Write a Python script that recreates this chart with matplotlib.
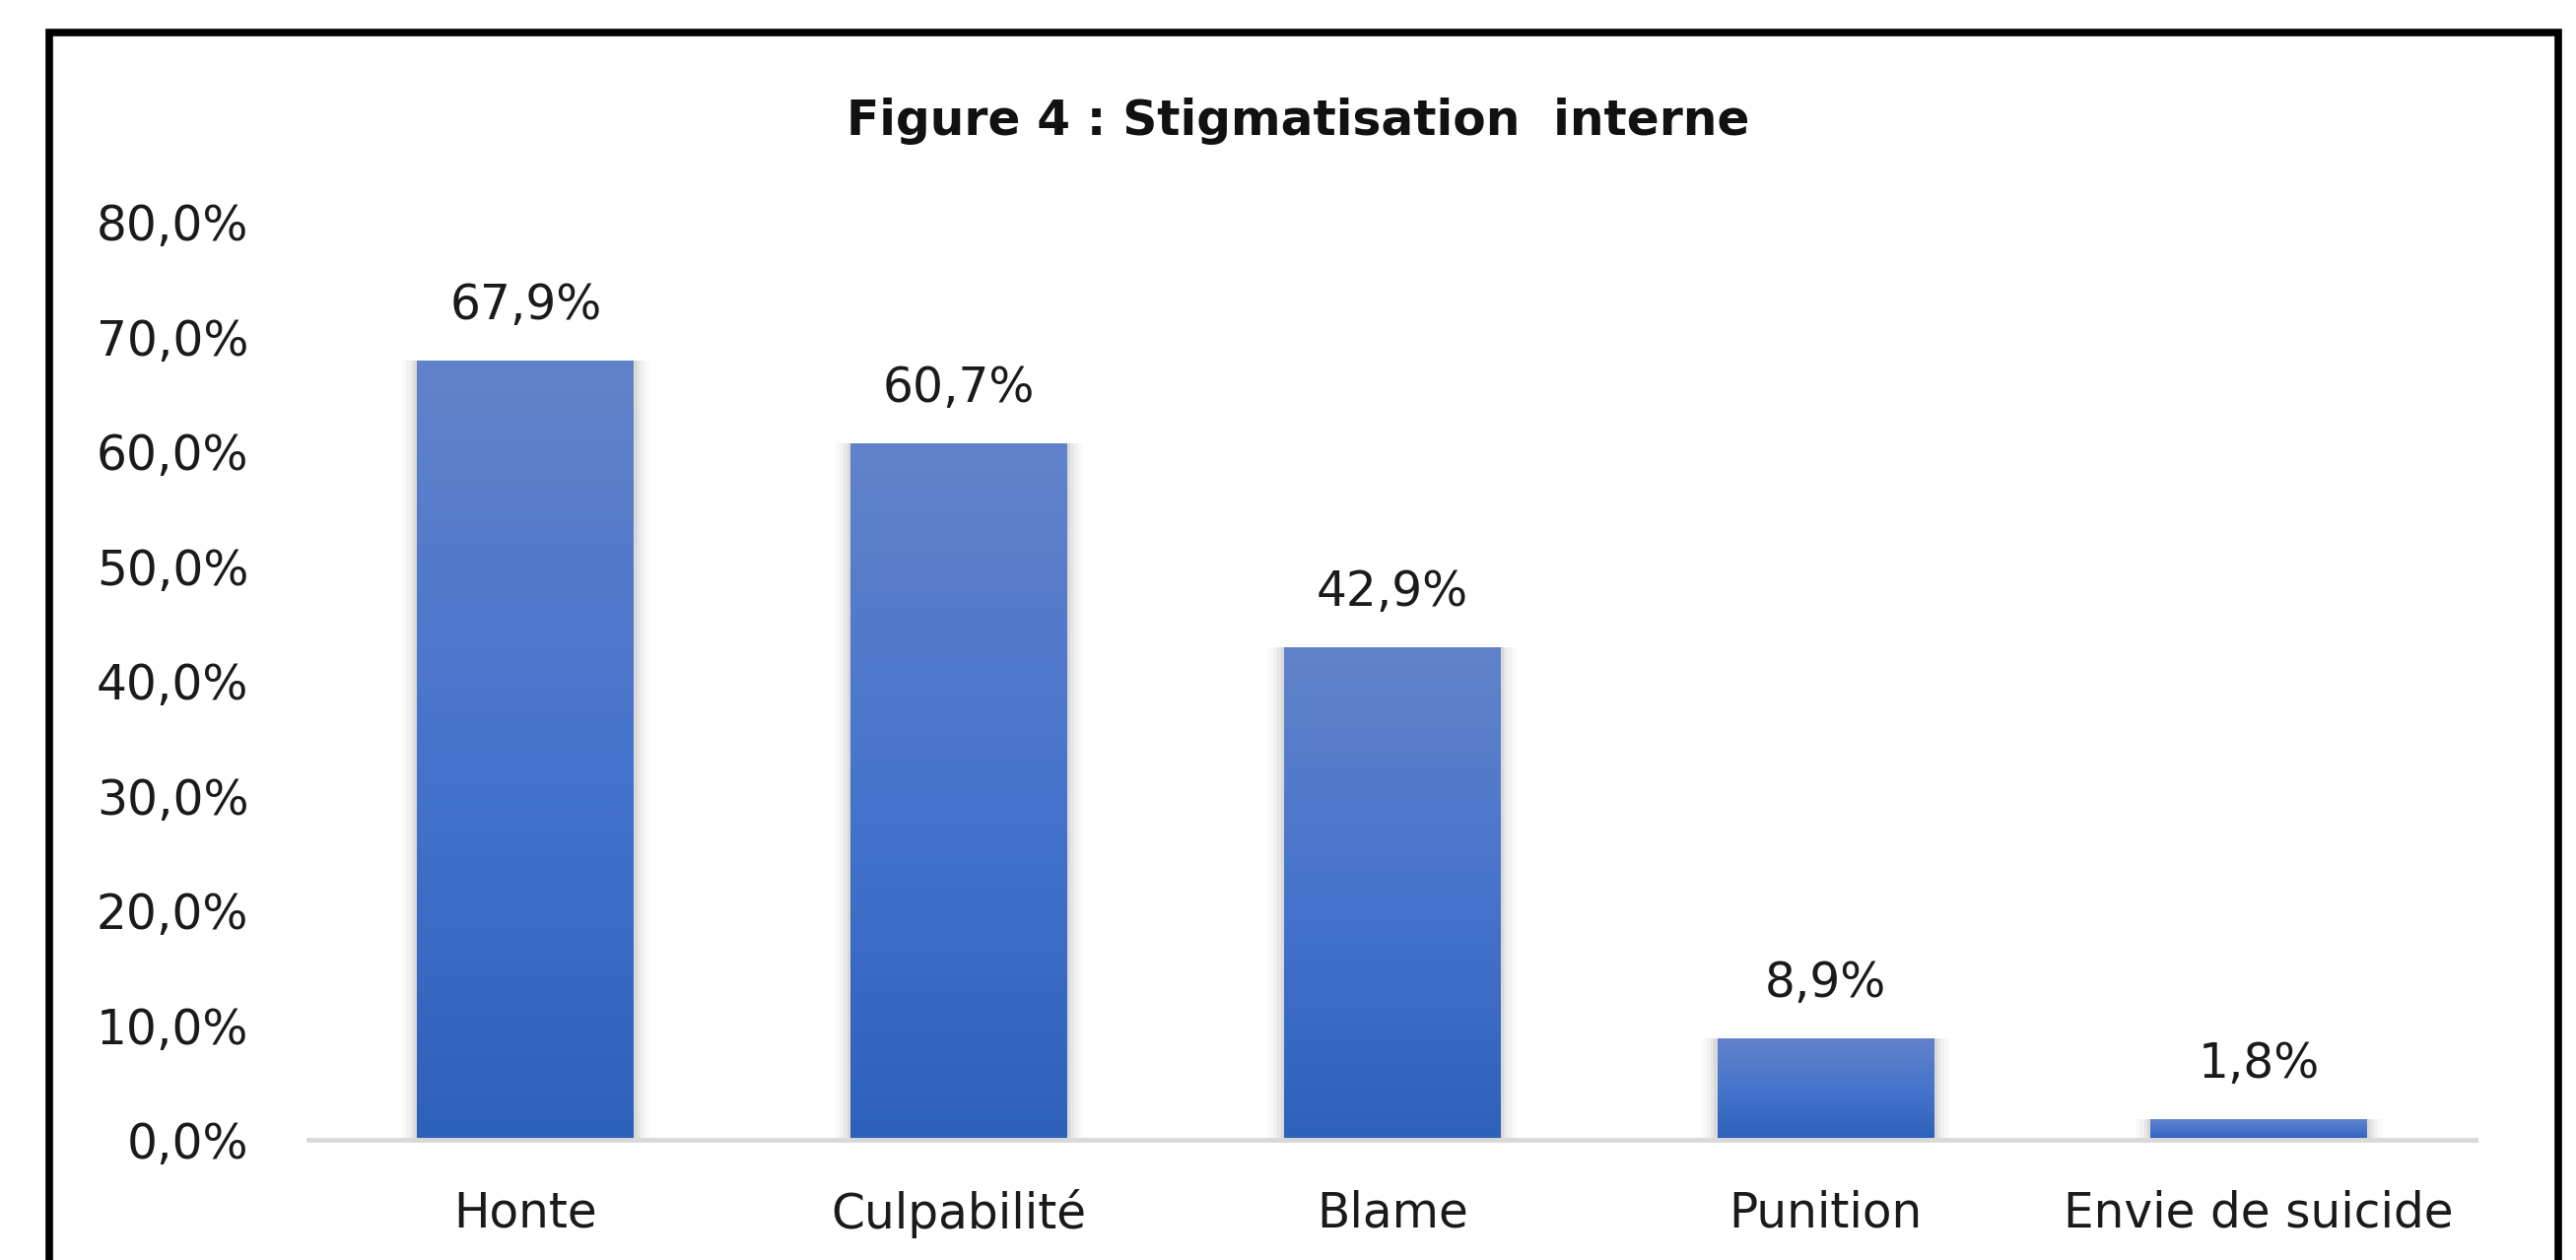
import numpy as np
import matplotlib.pyplot as plt
from matplotlib.patches import Rectangle
from matplotlib.colors import LinearSegmentedColormap

# Data
categories = ['Honte', 'Culpabilité', 'Blame', 'Punition', 'Envie de suicide']
values = [0.679, 0.607, 0.429, 0.089, 0.018]
labels = ['67,9%', '60,7%', '42,9%', '8,9%', '1,8%']
yticks = [0.0, 0.1, 0.2, 0.3, 0.4, 0.5, 0.6, 0.7, 0.8]

plt.rcParams['font.family'] = ['DejaVu Sans']

fig = plt.figure(figsize=(26.14, 12.79), dpi=100)
ax = fig.add_axes([0.1199, 0.0952, 0.8411, 0.7288])

x = np.arange(len(categories))
width = 0.5

# soft shadow behind the bars
for k, a in zip([0.07, 0.05, 0.03, 0.015], [0.04, 0.06, 0.09, 0.12]):
    ax.bar(x, values, width=width + k, color='#7f7f7f', alpha=a, linewidth=0, zorder=1)

bars = ax.bar(x, values, width=width, color='#4472C4', linewidth=0, zorder=2)

# vertical gradient inside each bar
cmap = LinearSegmentedColormap.from_list('grad', ['#2E61BA', '#4674CC', '#6283CA'])
grad = np.linspace(0, 1, 256).reshape(-1, 1)
for b in bars:
    x0, y0 = b.get_x(), b.get_y()
    w, h = b.get_width(), b.get_height()
    im = ax.imshow(grad, cmap=cmap, origin='lower', aspect='auto',
                   extent=[x0, x0 + w, y0, y0 + h], zorder=3)
    im.set_clip_path(b)

for xi, v, lab in zip(x, values, labels):
    ax.annotate(lab, (xi, v), xytext=(0, 23), textcoords='offset points',
                ha='center', va='bottom', fontsize=35, color='#1a1a1a')

ax.set_xlim(-0.5, len(categories) - 0.5)
ax.set_ylim(0, 0.8)
ax.set_yticks(yticks)
ax.set_yticklabels([f'{t * 100:.1f}%'.replace('.', ',') for t in yticks])
ax.set_xticks(x)
ax.set_xticklabels(categories)
ax.tick_params(axis='y', length=0, pad=44, labelsize=35, labelcolor='#1a1a1a')
ax.tick_params(axis='x', length=0, pad=36, labelsize=35, labelcolor='#1a1a1a')

for s in ['top', 'right', 'left']:
    ax.spines[s].set_visible(False)
ax.spines['bottom'].set_color('#d9d9d9')
ax.spines['bottom'].set_linewidth(3.5)
ax.spines['bottom'].set_zorder(4)

fig.text(0.504, 0.904, 'Figure 4 : Stigmatisation  interne', ha='center', va='center',
         fontsize=35, fontweight='bold', color='#111111')

# outer frame (cut off at the bottom)
frame = Rectangle((0.0191, -0.05), 0.9739, 1.024, transform=fig.transFigure,
                  fill=False, edgecolor='black', linewidth=5.5)
fig.patches.append(frame)

fig.savefig('out.png', dpi=100)
